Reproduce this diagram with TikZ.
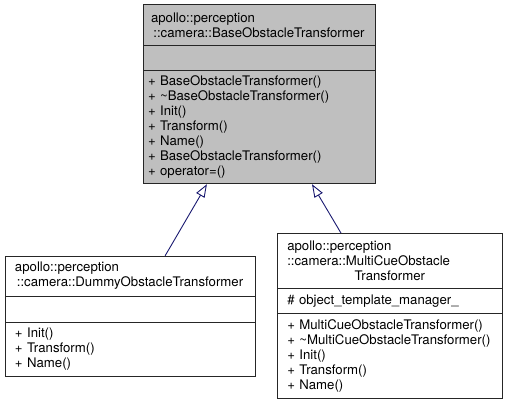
\documentclass[tikz,border=0pt]{standalone}
\usepackage{fontspec}
\setmainfont{TeX Gyre Heros}
\usetikzlibrary{arrows.meta,fit,positioning}
\definecolor{edgeblue}{HTML}{191970}
\definecolor{basefill}{HTML}{BFBFBF}
\tikzset{
  field/.style={draw=black!85, line width=1pt, outer sep=0pt, align=left, inner xsep=10pt, inner ysep=0pt, font=\fontsize{13.2}{15}\selectfont},
  classbox/.style={inner sep=0pt},
  inherit/.style={-{Triangle[open,length=13pt,width=9.5pt]}, draw=edgeblue, line width=0.9pt}
}
\newcommand{\lastline}[1]{\makebox[\linewidth][c]{#1}}

\begin{document}
\begin{tikzpicture}[x=1pt,y=-1pt]
  \useasboundingbox (0,0) rectangle (507,404);

  \node[field, fill=basefill, text width=216pt, inner xsep=8pt, minimum height=40.7pt, anchor=north west] (basetitle) at (143,5)
    {apollo::perception\\\lastline{::camera::BaseObstacleTransformer}};
  \node[field, fill=basefill, text width=212pt, minimum height=25pt, below=0pt of basetitle] (baseattr) {};
  \node[field, fill=basefill, text width=222pt, inner xsep=5pt, minimum height=113.3pt, below=0pt of baseattr] (baseops)
    {+ BaseObstacleTransformer()\\+ \textasciitilde BaseObstacleTransformer()\\+ Init()\\+ Transform()\\+ Name()\\+ BaseObstacleTransformer()\\+ operator=()};
  \node[classbox, fit=(basetitle)(baseops)] (base) {};

  \node[field, fill=white, text width=230pt, minimum height=40pt, anchor=north west] (dummytitle) at (5,256)
    {apollo::perception\\\lastline{::camera::DummyObstacleTransformer}};
  \node[field, fill=white, text width=230pt, minimum height=26pt, below=0pt of dummytitle] (dummyattr) {};
  \node[field, fill=white, text width=230pt, minimum height=54pt, below=0pt of dummyattr] (dummyops)
    {+ Init()\\+ Transform()\\+ Name()};
  \node[classbox, fit=(dummytitle)(dummyops)] (dummy) {};

  \node[field, fill=white, text width=205pt, minimum height=55pt, anchor=north west] (multititle) at (277.3,233.3)
    {apollo::perception\\::camera::MultiCueObstacle\\\lastline{Transformer}};
  \node[field, fill=white, text width=205pt, minimum height=25pt, below=0pt of multititle] (multiattr)
    {\# object\_template\_manager\_};
  \node[field, fill=white, text width=205pt, minimum height=85pt, below=0pt of multiattr] (multiops)
    {+ MultiCueObstacleTransformer()\\+ \textasciitilde MultiCueObstacleTransformer()\\+ Init()\\+ Transform()\\+ Name()};
  \node[classbox, fit=(multititle)(multiops)] (multi) {};

  \draw[inherit] (dummy) -- (base);
  \draw[inherit] (multi) -- (base);
\end{tikzpicture}
\end{document}
